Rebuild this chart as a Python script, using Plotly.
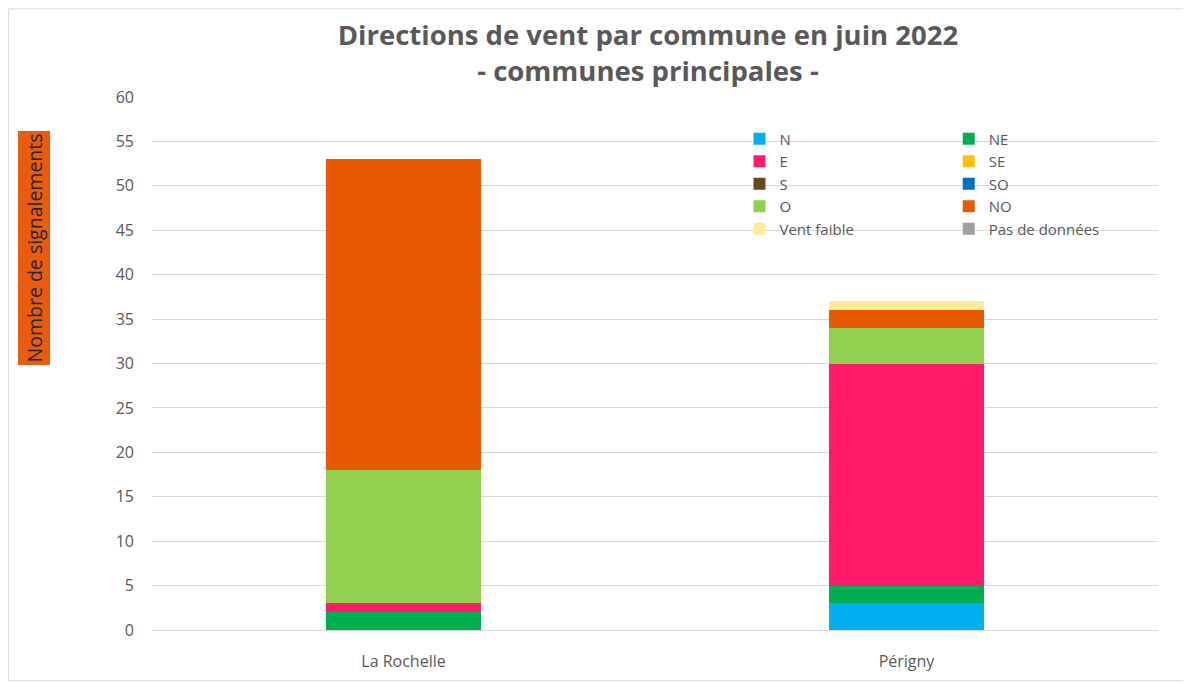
import plotly.graph_objects as go

communes = ['La Rochelle', 'Périgny']
directions = ['N', 'NE', 'E', 'SE', 'S', 'SO', 'O', 'NO', 'Vent faible', 'Pas de données']
# nombre de signalements par direction, pour chaque commune
valeurs = {
    'N': [0, 3],
    'NE': [2, 2],
    'E': [1, 25],
    'SE': [0, 0],
    'S': [0, 0],
    'SO': [0, 0],
    'O': [15, 4],
    'NO': [35, 2],
    'Vent faible': [0, 1],
    'Pas de données': [0, 0],
}
couleurs = ['#00B0F0', '#00B050', '#FF1A6A', '#FFC000', '#654A1E',
            '#0070C0', '#92D050', '#E85A00', '#FFEB9C', '#A0A0A0']
y_ticks = list(range(0, 65, 5))

fig = go.Figure()
# legende sur 2 colonnes : une legende par colonne
for i, (d, c) in enumerate(zip(directions, couleurs)):
    fig.add_trace(go.Bar(x=communes, y=valeurs[d], name=d, marker_color=c,
                         marker_line_width=0,
                         legend='legend' if i % 2 == 0 else 'legend2'))

gris = '#595959'
leg = dict(orientation='v', y=0.952, yanchor='top', xanchor='left',
           traceorder='normal', bgcolor='rgba(0,0,0,0)',
           font=dict(size=15, color=gris), tracegroupgap=0)

fig.update_layout(
    barmode='stack',
    bargap=0.69,
    width=1183, height=676,
    plot_bgcolor='white', paper_bgcolor='white',
    margin=dict(l=144, r=33, t=89, b=52),
    font=dict(family='Open Sans', size=16, color=gris),
    title=dict(text='<b>Directions de vent par commune en juin 2022<br>- communes principales -</b>',
               x=0.493, xref='paper', xanchor='center',
               y=0.945, yref='container', yanchor='top',
               font=dict(size=27.5, color=gris)),
    legend=dict(leg, x=0.584),
    legend2=dict(leg, x=0.792),
    yaxis=dict(range=[0, 60], tickvals=y_ticks, gridcolor='#D9D9D9', gridwidth=1,
               zeroline=False, showline=False, ticks='', ticklabelstandoff=17),
    xaxis=dict(showline=True, linecolor='#D9D9D9', ticks='', ticklabelstandoff=17),
)

fig.add_annotation(text='Nombre de signalements', xref='paper', yref='paper',
                   x=-0.1168, y=0.7168, xanchor='center', yanchor='middle',
                   textangle=-90, showarrow=False, borderpad=2,
                   bgcolor='#E95C0B', font=dict(size=19.5, color='#262626'))

fig.add_shape(type='rect', xref='paper', yref='paper',
              x0=-0.1426, x1=1.0318, y0=-0.0953, y1=1.1654,
              line=dict(color='#D9D9D9', width=1))

fig.write_html('out.html')
